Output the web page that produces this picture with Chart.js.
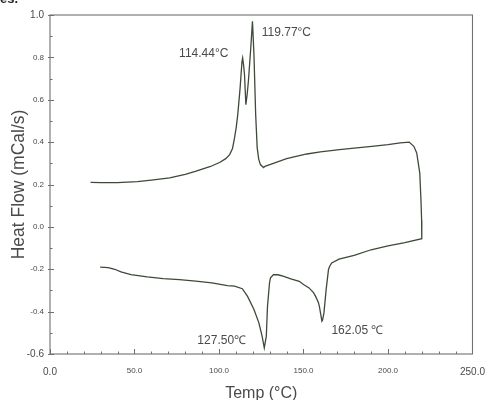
<!DOCTYPE html>
<html>
<head>
<meta charset="utf-8">
<script src="https://cdn.jsdelivr.net/npm/chart.js@4.4.1/dist/chart.umd.min.js"></script>
<style>
html,body{margin:0;padding:0;background:#fff;}
#wrap{width:497px;height:400px;position:relative;}
</style>
</head>
<body>
<div id="wrap"><canvas id="c" width="497" height="400"></canvas></div>
<script>
// ---- Data ----
// Heating scan (°C, mCal/s)
const heatTemp = [24, 30, 40, 51.7, 60, 70.8, 80, 86, 95, 100.6, 104, 106.3, 108, 109.2, 110.2, 111.1, 112.5, 113.6, 114.0, 114.6, 115.1, 115.9, 116.6, 117.4, 118.8, 119.8, 120.7, 121.7, 122.6, 123.5, 124.5, 126.4, 127.2, 133, 140, 152, 160, 171.3, 180, 190.4, 200, 207.3, 212.5, 215.3, 217, 218.8, 219.5, 219.9];
const heatFlow = [0.21, 0.209, 0.209, 0.214, 0.221, 0.231, 0.248, 0.262, 0.285, 0.305, 0.322, 0.341, 0.37, 0.42, 0.47, 0.53, 0.656, 0.78, 0.797, 0.76, 0.718, 0.577, 0.62, 0.687, 0.844, 0.97, 0.81, 0.53, 0.373, 0.32, 0.294, 0.28, 0.286, 0.302, 0.322, 0.344, 0.354, 0.365, 0.372, 0.38, 0.388, 0.396, 0.40, 0.38, 0.349, 0.255, 0.129, 0.03];
// Cooling scan (°C, mCal/s), from 220 °C downwards
const coolTemp = [220, 210, 200, 190, 180, 171, 166.7, 165.5, 164.8, 163.4, 162.1, 161.3, 160.9, 159.4, 158.8, 157.1, 155.9, 153.3, 150, 147.5, 142.5, 137.9, 134.9, 132.2, 130.5, 129.9, 128.7, 128.0, 126.8, 125.5, 123.6, 120.7, 116.9, 113.8, 109.2, 105, 95.8, 86.2, 76.6, 67, 57.5, 47.9, 42, 38.3, 34.5, 29.7];
const coolFlow = [-0.056, -0.074, -0.09, -0.108, -0.135, -0.152, -0.17, -0.186, -0.201, -0.296, -0.406, -0.44, -0.445, -0.375, -0.357, -0.327, -0.31, -0.288, -0.272, -0.257, -0.245, -0.233, -0.226, -0.225, -0.24, -0.264, -0.375, -0.516, -0.571, -0.516, -0.453, -0.39, -0.328, -0.292, -0.28, -0.277, -0.264, -0.256, -0.249, -0.244, -0.236, -0.225, -0.212, -0.2, -0.192, -0.19];
// Axis ticks
const xTicks = [0, 50, 100, 150, 200, 250];
const yTicks = [-0.6, -0.4, -0.2, 0.0, 0.2, 0.4, 0.6, 0.8, 1.0];
// Peak labels
const peakLabels = ['114.44°C', '119.77°C', '127.50℃', '162.05 ℃'];
const peakLabelX = [76.4, 125.3, 87.2, 166.5];
const peakLabelY = [0.817, 0.917, -0.536, -0.492];

const curve = heatTemp.map((t, i) => ({x: t, y: heatFlow[i]}))
  .concat(coolTemp.map((t, i) => ({x: t, y: coolFlow[i]})));

const textColor = '#4a4a4a';
const axisColor = '#707070';
const FONT = '"Liberation Sans", Arial, sans-serif';

const framePlugin = {
  id: 'frame',
  afterDraw(chart) {
    const {ctx, chartArea: a, scales: {x, y}} = chart;
    ctx.save();
    ctx.strokeStyle = axisColor;
    ctx.lineWidth = 1.1;
    ctx.strokeRect(a.left, a.top, a.right - a.left, a.bottom - a.top);
    ctx.lineWidth = 1;
    // x ticks (inward), minor every 10
    for (let v = xTicks[0]; v <= xTicks[xTicks.length - 1] + 1e-9; v += 10) {
      const px = Math.round(x.getPixelForValue(v)) + 0.5;
      const major = xTicks.includes(v);
      ctx.beginPath();
      ctx.moveTo(px, a.bottom);
      ctx.lineTo(px, a.bottom - (major ? 5 : 2.5));
      ctx.stroke();
    }
    // y ticks (inward), minor every 0.1
    for (let k = -6; k <= 10; k++) {
      const v = k / 10;
      const py = Math.round(y.getPixelForValue(v)) + 0.5;
      const major = (k % 2 === 0);
      ctx.beginPath();
      ctx.moveTo(a.left - (major ? 2 : 0), py);
      ctx.lineTo(a.left + (major ? 4 : 2.5), py);
      ctx.stroke();
    }
    // peak labels
    ctx.fillStyle = textColor;
    ctx.font = '12px ' + FONT;
    ctx.textAlign = 'left';
    ctx.textBaseline = 'middle';
    peakLabels.forEach((t, i) => {
      ctx.fillText(t, x.getPixelForValue(peakLabelX[i]), y.getPixelForValue(peakLabelY[i]));
    });
    // cropped caption fragment at very top-left
    ctx.fillStyle = '#222';
    ctx.font = 'bold 13px ' + FONT;
    ctx.textBaseline = 'alphabetic';
    ctx.fillText('es.', 0, 3);
    ctx.restore();
  }
};

new Chart(document.getElementById('c'), {
  type: 'scatter',
  data: {
    datasets: [{
      data: curve,
      showLine: true,
      borderColor: '#3d4a38',
      borderWidth: 1.3,
      pointRadius: 0,
      tension: 0
    }]
  },
  options: {
    responsive: false,
    animation: false,
    devicePixelRatio: 1,
    layout: {padding: {left: 0, right: 12, top: 15, bottom: 0}},
    plugins: {legend: {display: false}, tooltip: {enabled: false}},
    scales: {
      x: {
        type: 'linear',
        min: xTicks[0], max: xTicks[xTicks.length - 1],
        afterBuildTicks: (s) => { s.ticks = xTicks.map(v => ({value: v})); },
        afterFit: (s) => { s.height = 46; },
        grid: {display: false, drawTicks: false},
        border: {display: false},
        ticks: {
          padding: 12,
          color: textColor,
          maxRotation: 0,
          font: (c) => {
            const v = c.tick ? c.tick.value : 0;
            return {family: FONT, size: (v === 0 || v === 250) ? 10 : 8};
          },
          callback: (v) => Number(v).toFixed(1)
        },
        title: {
          display: true,
          text: 'Temp (°C)',
          color: textColor,
          font: {family: FONT, size: 16, lineHeight: 0.8},
          padding: {top: 0, bottom: 0}
        }
      },
      y: {
        type: 'linear',
        min: yTicks[0], max: yTicks[yTicks.length - 1],
        afterBuildTicks: (s) => { s.ticks = yTicks.map(v => ({value: v})); },
        afterFit: (s) => { s.width = 50; },
        grid: {display: false, drawTicks: false},
        border: {display: false},
        ticks: {
          padding: 6,
          color: textColor,
          font: (c) => {
            const v = c.tick ? c.tick.value : 0;
            return {family: FONT, size: (Math.abs(v - 1) < 1e-9 || Math.abs(v + 0.6) < 1e-9) ? 10 : 8};
          },
          callback: (v) => (Math.abs(v) < 1e-9 ? 0 : Number(v)).toFixed(1)
        },
        title: {
          display: true,
          text: 'Heat Flow (mCal/s)',
          color: textColor,
          font: {family: FONT, size: 17.5},
          padding: {top: 9, bottom: 0}
        }
      }
    }
  },
  plugins: [framePlugin]
});
</script>
</body>
</html>
